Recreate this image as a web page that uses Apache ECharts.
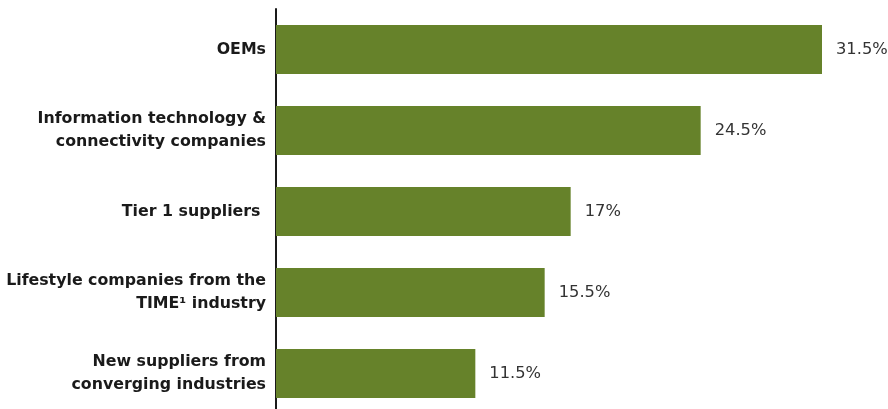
<!DOCTYPE html>
<html>
<head>
<meta charset="utf-8">
<script src="https://cdn.jsdelivr.net/npm/echarts@6/dist/echarts.min.js"></script>
<style>
html,body{margin:0;padding:0;background:#fff;overflow:hidden;}
#chart{width:888px;height:414px;}
</style>
</head>
<body>
<div id="chart"></div>
<script>
var categories = [
  "OEMs",
  "Information technology &\nconnectivity companies",
  "Tier 1 suppliers ",
  "Lifestyle companies from the\nTIME\u00B9 industry",
  "New suppliers from\nconverging industries"
];
var values = [31.5, 24.5, 17, 15.5, 11.5];
var valueLabels = ["31.5%", "24.5%", "17%", "15.5%", "11.5%"];

var chart = echarts.init(document.getElementById('chart'), null, {renderer: 'canvas'});
chart.setOption({
  animation: false,
  backgroundColor: '#ffffff',
  grid: {left: 276, top: 9, width: 546, height: 405, containLabel: false},
  xAxis: {
    type: 'value', min: 0, max: 31.5, show: false
  },
  yAxis: {
    type: 'category',
    data: categories,
    inverse: true,
    axisLine: {show: true, lineStyle: {color: '#1a1a1a', width: 2}},
    axisTick: {show: false},
    axisLabel: {
      margin: 10,
      color: '#1a1a1a',
      fontFamily: 'DejaVu Sans, sans-serif',
      fontWeight: 'bold',
      fontSize: 15.8,
      lineHeight: 23,
      align: 'right'
    }
  },
  series: [{
    type: 'bar',
    data: values,
    barWidth: 49,
    itemStyle: {color: '#66822A'},
    label: {
      show: true,
      position: 'right',
      distance: 14,
      color: '#333333',
      fontFamily: 'DejaVu Sans, sans-serif',
      fontSize: 16.3,
      formatter: function (p) { return valueLabels[p.dataIndex]; }
    }
  }]
});
</script>
</body>
</html>
